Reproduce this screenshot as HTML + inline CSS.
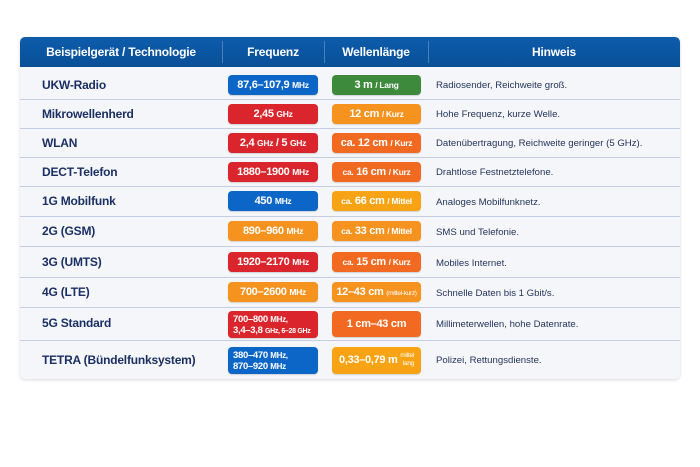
<!DOCTYPE html>
<html><head><meta charset="utf-8"><style>
body{margin:0;width:700px;height:467px;background:#fff;font-family:"Liberation Sans",sans-serif;position:relative;overflow:hidden}
.tbl{position:absolute;left:20px;top:37px;width:660px;height:342px;background:#f4f6fa;border-radius:5px;box-shadow:0 1px 3px rgba(0,0,0,.15);overflow:hidden}
.hdr{position:absolute;left:0;top:0;width:660px;height:30px;background:linear-gradient(#0d5cab,#094f98)}
.h{position:absolute;top:0;height:30px;line-height:30px;color:#fff;font-weight:bold;font-size:12px;text-align:center;letter-spacing:-0.2px}
.vd{position:absolute;top:4px;width:1px;height:22px;background:#4c80bd}
.line{position:absolute;left:0;width:660px;height:1px;background:#c5cee0}
.n{position:absolute;left:22px;color:#1b2f63;font-weight:bold;font-size:12px;letter-spacing:-0.2px}
.t{position:absolute;left:416px;color:#243358;font-size:9.6px;white-space:nowrap}
.b{position:absolute;border-radius:4px;color:#fff;font-weight:bold;font-size:11px;text-align:center;line-height:20px;white-space:nowrap;letter-spacing:-0.3px;box-shadow:0 1px 1px rgba(0,0,0,.15)}
.b small{font-size:8.5px;font-weight:bold}
.b.two{line-height:11px;text-align:left;padding:3px 0 0 5px;box-sizing:border-box;font-size:9.5px}
.b.two small{font-size:8px}
.f{left:208px;width:90px}.w{left:312px;width:89px}
.blue{background:#0b66c8}.red{background:#d9252b}.org{background:#f6921e}.oo{background:#f26a22}.grn{background:#3e8a3c}.yel{background:#f8a313}
</style></head><body>
<div class="tbl">
<div class="hdr"></div>
<div class="h" style="left:0;width:202px">Beispielgerät / Technologie</div>
<div class="vd" style="left:202px"></div>
<div class="h" style="left:202px;width:102px">Frequenz</div>
<div class="vd" style="left:304px"></div>
<div class="h" style="left:304px;width:104px">Wellenlänge</div>
<div class="vd" style="left:408px"></div>
<div class="h" style="left:408px;width:252px">Hinweis</div>

<div class="line" style="top:62px"></div><div class="line" style="top:91px"></div><div class="line" style="top:120px"></div><div class="line" style="top:149px"></div><div class="line" style="top:179px"></div><div class="line" style="top:209px"></div><div class="line" style="top:240px"></div><div class="line" style="top:270px"></div><div class="line" style="top:303px"></div>

<div class="n" style="top:41px">UKW-Radio</div><div class="b f blue" style="top:38px;height:20px">87,6–107,9 <small>MHz</small></div><div class="b w grn" style="top:38px;height:20px">3 m <small>/ Lang</small></div><div class="t" style="top:43px">Radiosender, Reichweite groß.</div>
<div class="n" style="top:70px">Mikrowellenherd</div><div class="b f red" style="top:67px;height:20px">2,45 <small>GHz</small></div><div class="b w org" style="top:67px;height:20px">12 cm <small>/ Kurz</small></div><div class="t" style="top:72px">Hohe Frequenz, kurze Welle.</div>
<div class="n" style="top:99px">WLAN</div><div class="b f red" style="top:96px;height:20px">2,4 <small>GHz</small> / 5 <small>GHz</small></div><div class="b w oo" style="top:96px;height:20px">ca. 12 cm <small>/ Kurz</small></div><div class="t" style="top:101px">Datenübertragung, Reichweite geringer (5 GHz).</div>
<div class="n" style="top:128px">DECT-Telefon</div><div class="b f red" style="top:125px;height:20px">1880–1900 <small>MHz</small></div><div class="b w oo" style="top:125px;height:20px"><small>ca.</small> 16 cm <small>/ Kurz</small></div><div class="t" style="top:130px">Drahtlose Festnetztelefone.</div>
<div class="n" style="top:157px">1G Mobilfunk</div><div class="b f blue" style="top:154px;height:20px">450 <small>MHz</small></div><div class="b w yel" style="top:154px;height:20px"><small>ca.</small> 66 cm <small>/ Mittel</small></div><div class="t" style="top:160px">Analoges Mobilfunknetz.</div>
<div class="n" style="top:187px">2G (GSM)</div><div class="b f org" style="top:184px;height:20px">890–960 <small>MHz</small></div><div class="b w org" style="top:184px;height:20px"><small>ca.</small> 33 cm <small>/ Mittel</small></div><div class="t" style="top:190px">SMS und Telefonie.</div>
<div class="n" style="top:218px">3G (UMTS)</div><div class="b f red" style="top:215px;height:20px">1920–2170 <small>MHz</small></div><div class="b w oo" style="top:215px;height:20px"><small>ca.</small> 15 cm <small>/ Kurz</small></div><div class="t" style="top:221px">Mobiles Internet.</div>
<div class="n" style="top:248px">4G (LTE)</div><div class="b f org" style="top:245px;height:20px">700–2600 <small>MHz</small></div><div class="b w org" style="top:245px;height:20px">12–43 cm <small style="font-size:6.5px;font-weight:normal">(mittel-kurz)</small></div><div class="t" style="top:251px">Schnelle Daten bis 1 Gbit/s.</div>
<div class="n" style="top:279px">5G Standard</div><div class="b f red two" style="top:274px;height:27px">700–800 <small>MHz,</small><br>3,4–3,8 <small style="font-size:7px">GHz, 6–28 GHz</small></div><div class="b w oo" style="top:274px;height:26px;line-height:26px">1 cm–43 cm</div><div class="t" style="top:282px">Millimeterwellen, hohe Datenrate.</div>
<div class="n" style="top:316px">TETRA (Bündelfunksystem)</div><div class="b f blue two" style="top:310px;height:27px">380–470 <small>MHz,</small><br>870–920 <small>MHz</small></div><div class="b w yel" style="top:310px;height:27px;line-height:27px">0,33–0,79 m <span style="display:inline-block;vertical-align:middle;font-size:6.5px;font-weight:normal;line-height:8px;text-align:right">mittel<br>lang</span></div><div class="t" style="top:318px">Polizei, Rettungsdienste.</div>
</div>
</body></html>
